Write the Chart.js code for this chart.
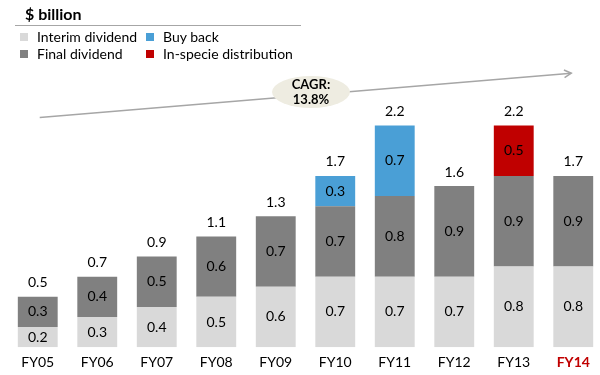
<!DOCTYPE html>
<html>
<head>
<meta charset="utf-8">
<script src="https://cdn.jsdelivr.net/npm/chart.js@4.4.0/dist/chart.umd.min.js"></script>
<style>
  html, body { margin: 0; padding: 0; background: #fff; overflow: hidden; }
  body { width: 600px; height: 375px; position: relative; font-family: Lato, "Open Sans", sans-serif; }
  #wrap { position: absolute; left: 0; top: 0; width: 606px; height: 382px; }
  #title { position: absolute; left: 25px; top: 4px; font-size: 16px; font-weight: bold; color: #000; }
  #rule { position: absolute; left: 15px; top: 25px; width: 286px; height: 0; border-top: 1.5px solid #a6a6a6; }
  .leg { position: absolute; font-size: 14px; color: #000; white-space: nowrap; line-height: 16px; }
  .leg i { position: absolute; left: -17px; top: 4px; width: 8px; height: 8px; }
</style>
</head>
<body>
<div id="wrap"><canvas id="chart"></canvas></div>
<div id="title">$ billion</div>
<div id="rule"></div>
<div class="leg" style="left:37px;top:29px"><i style="background:#d9d9d9"></i>Interim dividend</div>
<div class="leg" style="left:37px;top:46px"><i style="background:#808080"></i>Final dividend</div>
<div class="leg" style="left:163px;top:29px"><i style="background:#4a9fd6"></i>Buy back</div>
<div class="leg" style="left:163px;top:46px"><i style="background:#c00000"></i>In-specie distribution</div>
<script>
const years = ['FY05', 'FY06', 'FY07', 'FY08', 'FY09', 'FY10', 'FY11', 'FY12', 'FY13', 'FY14'];
const interim = [0.2, 0.3, 0.4, 0.5, 0.6, 0.7, 0.7, 0.7, 0.8, 0.8];
const finalDiv = [0.3, 0.4, 0.5, 0.6, 0.7, 0.7, 0.8, 0.9, 0.9, 0.9];
const buyBack = [null, null, null, null, null, 0.3, 0.7, null, null, null];
const inSpecie = [null, null, null, null, null, null, null, null, 0.5, null];
const totals = ['0.5', '0.7', '0.9', '1.1', '1.3', '1.7', '2.2', '1.6', '2.2', '1.7'];

const FONT = 'Lato, "Open Sans", sans-serif';

// value labels inside the bars + totals on top, and the CAGR arrow
const labelPlugin = {
    id: 'labels',
    afterDatasetsDraw(chart) {
        const ctx = chart.ctx;
        ctx.save();
        ctx.font = '14px ' + FONT;
        ctx.fillStyle = '#000';
        ctx.textAlign = 'center';
        ctx.textBaseline = 'middle';
        const tops = [];
        chart.data.datasets.forEach((ds, di) => {
            const meta = chart.getDatasetMeta(di);
            meta.data.forEach((bar, i) => {
                const v = ds.data[i];
                if (v == null) return;
                ctx.fillText(v.toFixed(1), bar.x, (bar.y + bar.base) / 2);
                if (tops[i] === undefined || bar.y < tops[i].y) tops[i] = {x: bar.x, y: bar.y};
            });
        });
        tops.forEach((t, i) => {
            ctx.fillText(totals[i], t.x, t.y - 14);
        });

        // CAGR arrow
        const xs = chart.scales.x, ys = chart.scales.y;
        const x0 = xs.getPixelForValue(0) + 2, y0 = ys.getPixelForValue(2.28);
        const x1 = xs.getPixelForValue(9) - 2, y1 = ys.getPixelForValue(2.72);
        ctx.strokeStyle = '#a6a6a6';
        ctx.lineWidth = 1.5;
        ctx.beginPath();
        ctx.moveTo(x0, y0);
        ctx.lineTo(x1, y1);
        ctx.stroke();
        const ang = Math.atan2(y1 - y0, x1 - x0);
        ctx.beginPath();
        ctx.moveTo(x1 - 8 * Math.cos(ang - 0.5), y1 - 8 * Math.sin(ang - 0.5));
        ctx.lineTo(x1, y1);
        ctx.lineTo(x1 - 8 * Math.cos(ang + 0.5), y1 - 8 * Math.sin(ang + 0.5));
        ctx.stroke();

        ctx.fillStyle = '#eeece1';
        ctx.beginPath();
        ctx.ellipse(311, 92, 39, 16, 0, 0, Math.PI * 2);
        ctx.fill();
        ctx.fillStyle = '#000';
        ctx.font = 'bold 13px ' + FONT;
        ctx.fillText('CAGR:', 311, 85);
        ctx.fillText('13.8%', 311, 100);
        ctx.restore();
    }
};

new Chart(document.getElementById('chart'), {
    type: 'bar',
    data: {
        labels: years,
        datasets: [
            { label: 'Interim dividend', data: interim, backgroundColor: '#d9d9d9' },
            { label: 'Final dividend', data: finalDiv, backgroundColor: '#808080' },
            { label: 'Buy back', data: buyBack, backgroundColor: '#4a9fd6' },
            { label: 'In-specie distribution', data: inSpecie, backgroundColor: '#c00000' }
        ]
    },
    options: {
        responsive: true,
        maintainAspectRatio: false,
        animation: false,
        datasets: { bar: { barPercentage: 0.67, categoryPercentage: 1 } },
        layout: { padding: { left: 8, right: 3, top: 45, bottom: 4 } },
        plugins: { legend: { display: false }, tooltip: { enabled: false } },
        scales: {
            x: {
                stacked: true,
                grid: { display: false, drawTicks: false },
                border: { display: false },
                ticks: {
                    padding: 7,
                    font: (c) => ({ family: FONT, size: 14, weight: c.index === 9 ? 'bold' : 'normal' }),
                    color: (c) => c.index === 9 ? '#c00000' : '#000'
                }
            },
            y: {
                stacked: true,
                display: false,
                min: 0,
                max: 3.0
            }
        }
    },
    plugins: [labelPlugin]
});
</script>
</body>
</html>
